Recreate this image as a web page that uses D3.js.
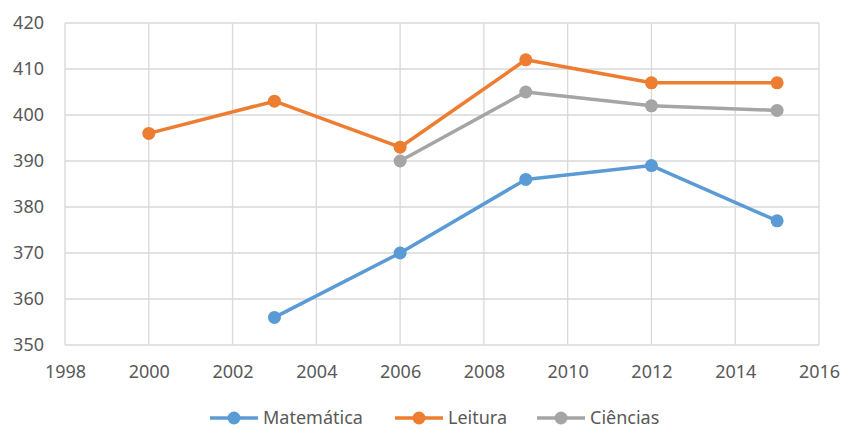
<!DOCTYPE html>
<html><head><meta charset="utf-8">
<script src="https://cdn.jsdelivr.net/npm/d3@7"></script>
<style>body{margin:0;background:#fff}svg{display:block}</style>
</head><body><div id="c"></div>
<script>
const years = [2000, 2003, 2006, 2009, 2012, 2015];
const matematica = [null, 356, 370, 386, 389, 377];
const leitura = [396, 403, 393, 412, 407, 407];
const ciencias = [null, null, 390, 405, 402, 401];
const seriesNames = ["Matemática", "Leitura", "Ciências"];
const seriesColors = ["#5B9BD5", "#ED7D31", "#A5A5A5"];
const xTicks = [1998, 2000, 2002, 2004, 2006, 2008, 2010, 2012, 2014, 2016];
const yTicks = [350, 360, 370, 380, 390, 400, 410, 420];

const W = 843, H = 430;
const m = {l: 65, r: 24, t: 23, b: 85};
const svg = d3.select("#c").append("svg").attr("width", W).attr("height", H);
const x = d3.scaleLinear().domain([1998, 2016]).range([m.l, W - m.r]);
const y = d3.scaleLinear().domain([350, 420]).range([H - m.b, m.t]);
const font = "Noto Sans, sans-serif";

const g = svg.append("g");
g.selectAll(".hg").data(yTicks).enter().append("line")
  .attr("x1", x(1998)).attr("x2", x(2016)).attr("y1", d => y(d)).attr("y2", d => y(d))
  .attr("stroke", "#D9D9D9").attr("stroke-width", 1.3);
g.selectAll(".vg").data(xTicks).enter().append("line")
  .attr("x1", d => x(d)).attr("x2", d => x(d)).attr("y1", y(350)).attr("y2", y(420))
  .attr("stroke", "#D9D9D9").attr("stroke-width", 1.3);

const yAxis = d3.axisLeft(y).tickValues(yTicks).tickSize(0).tickPadding(21);
svg.append("g").attr("transform", `translate(${m.l},0)`).call(yAxis)
  .call(s => s.select(".domain").remove())
  .selectAll("text").attr("fill", "#595959").style("font-family", font).style("font-size", "18px");
const xAxis = d3.axisBottom(x).tickValues(xTicks).tickSize(0).tickPadding(20).tickFormat(d3.format("d"));
svg.append("g").attr("transform", `translate(0,${y(350)})`).call(xAxis)
  .call(s => s.select(".domain").remove())
  .selectAll("text").attr("fill", "#595959").style("font-family", font).style("font-size", "18px");

const allSeries = [matematica, leitura, ciencias];
allSeries.forEach((vals, i) => {
  const pts = years.map((yr, j) => ({yr, v: vals[j]})).filter(p => p.v != null);
  const line = d3.line().x(p => x(p.yr)).y(p => y(p.v));
  svg.append("path").datum(pts).attr("d", line).attr("fill", "none")
    .attr("stroke", seriesColors[i]).attr("stroke-width", 3.5).attr("stroke-linejoin", "round");
  svg.selectAll(".pt" + i).data(pts).enter().append("circle")
    .attr("cx", p => x(p.yr)).attr("cy", p => y(p.v)).attr("r", 6.5).attr("fill", seriesColors[i]);
});

const legX = [210, 395, 537];
const legY = 418;
seriesNames.forEach((n, i) => {
  const lg = svg.append("g").attr("transform", `translate(${legX[i]},${legY})`);
  lg.append("line").attr("x1", 0).attr("x2", 48).attr("stroke", seriesColors[i]).attr("stroke-width", 3.5);
  lg.append("circle").attr("cx", 24).attr("r", 6.5).attr("fill", seriesColors[i]);
  lg.append("text").attr("x", 53).attr("dy", "0.35em").text(n)
    .attr("fill", "#595959").style("font-family", font).style("font-size", "18px");
});
</script></body></html>
